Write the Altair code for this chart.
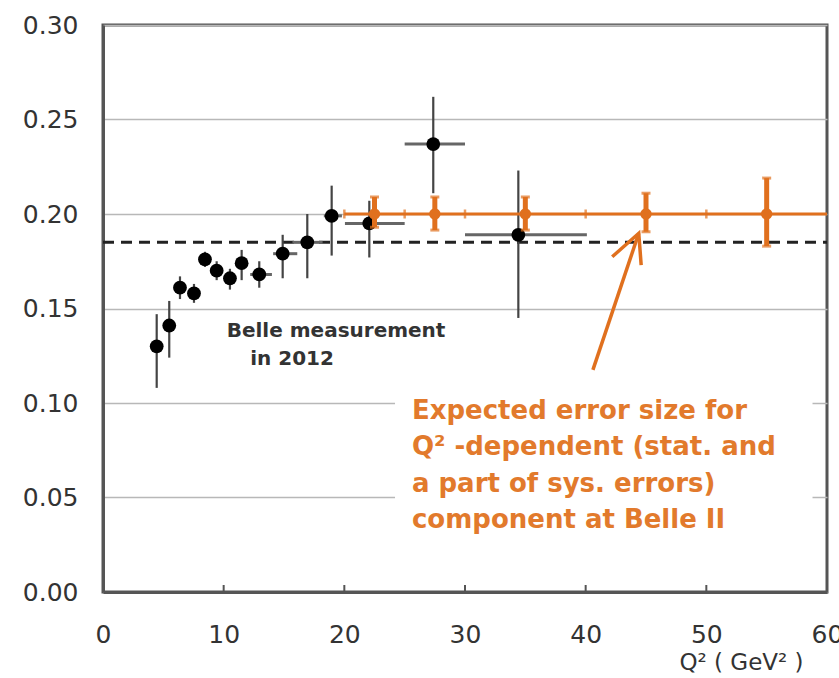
import altair as alt
import pandas as pd

# Belle 2012 measurement (Q^2 in GeV^2)
belle_q2 = [4.45, 5.49, 6.38, 7.54, 8.45, 9.42, 10.52, 11.49, 12.95, 14.89, 16.93, 18.95, 22.07, 27.37, 34.42]
belle_q2_lo = [3.95, 4.99, 5.88, 7.04, 7.95, 8.92, 10.02, 10.99, 12.2, 14.1, 15.7, 18.3, 20.05, 25.0, 30.0]
belle_q2_hi = [4.95, 5.99, 6.88, 8.04, 8.95, 9.92, 11.02, 11.99, 14.0, 16.1, 18.2, 19.8, 25.0, 30.0, 40.1]
belle_val = [0.130, 0.141, 0.161, 0.158, 0.176, 0.170, 0.166, 0.174, 0.168, 0.179, 0.185, 0.199, 0.195, 0.237, 0.189]
belle_lo = [0.108, 0.124, 0.155, 0.153, 0.172, 0.165, 0.160, 0.165, 0.161, 0.166, 0.166, 0.178, 0.177, 0.211, 0.145]
belle_hi = [0.147, 0.154, 0.167, 0.163, 0.180, 0.175, 0.171, 0.181, 0.175, 0.189, 0.200, 0.215, 0.207, 0.262, 0.223]

# Belle II expected errors
b2_q2 = [22.5, 27.5, 35.0, 45.0, 55.0]
b2_val = [0.200, 0.200, 0.200, 0.200, 0.200]
b2_lo = [0.193, 0.1915, 0.1915, 0.1906, 0.183]
b2_hi = [0.209, 0.209, 0.209, 0.211, 0.219]
b2_edges = [20, 25, 30, 40, 50]
b2_line_q2 = [20, 60]

# average line
avg_q2 = [0, 60]
avg_val = 0.185

x_ticks = [0, 10, 20, 30, 40, 50, 60]
inner_ticks = [10, 20, 30, 40, 50]
y_ticks = [0.0, 0.05, 0.10, 0.15, 0.20, 0.25, 0.30]

note_lines = ["Expected error size for", "Q² -dependent (stat. and",
              "a part of sys. errors)", "component at Belle II"]
note_y = [0.0959, 0.0769, 0.0571, 0.0381]
note_x = 25.6
note_box = {"x": 24.2, "x2": 58.8, "y": 0.022, "y2": 0.108}

belle_note = ["Belle  measurement", "in 2012"]
belle_note_x = [10.25, 12.2]
belle_note_y = [0.1383, 0.1233]

arrow_shaft = {"q": [40.6, 44.4], "v": [0.1175, 0.1898]}
arrow_head = {"q": [42.2, 44.4, 44.6], "v": [0.1774, 0.1898, 0.1730]}

ORANGE = "#E0701E"
TEXT_ORANGE = "#E27A2C"
DARK = "#555555"
FONT = "DejaVu Sans"

xscale = alt.Scale(domain=[0, 60], nice=False, zero=False)
yscale = alt.Scale(domain=[0, 0.30], nice=False, zero=False)
xaxis = alt.Axis(values=x_ticks, grid=False, ticks=False, labelPadding=30,
                 labelFontSize=25, labelFont=FONT, labelColor="#333333",
                 title="Q² ( GeV² )", titleFont=FONT, titleFontSize=23,
                 titleFontWeight="normal", titleColor="#333333",
                 titleX=638, titleY=70, titleAlign="center", titleBaseline="middle",
                 domainColor=DARK, domainWidth=3, labelFlush=False)
yaxis = alt.Axis(values=y_ticks, format=".2f", grid=True, gridColor="#b8b8b8",
                 gridWidth=1.5, ticks=False, labelPadding=25, labelFontSize=25,
                 labelFont=FONT, labelColor="#333333", title=None,
                 domainColor=DARK, domainWidth=3)


def X(field):
    return alt.X(f"{field}:Q", scale=xscale, axis=xaxis)


def Y(field):
    return alt.Y(f"{field}:Q", scale=yscale, axis=yaxis)


belle = pd.DataFrame({"q": belle_q2, "qlo": belle_q2_lo, "qhi": belle_q2_hi,
                      "v": belle_val, "lo": belle_lo, "hi": belle_hi})
b2 = pd.DataFrame({"q": b2_q2, "v": b2_val, "lo": b2_lo, "hi": b2_hi})

box = alt.Chart(pd.DataFrame([note_box])).mark_rect(color="white").encode(
    x=X("x"), x2="x2", y=Y("y"), y2="y2")

avg = alt.Chart(pd.DataFrame({"q": avg_q2, "v": [avg_val, avg_val]})).mark_line(
    color="#222222", strokeWidth=3, strokeDash=[11, 7]).encode(x=X("q"), y=Y("v"))

ticks_in = alt.Chart(pd.DataFrame({"q": inner_ticks})).mark_rule(
    color=DARK, strokeWidth=2).encode(x=X("q"), y=alt.value(567), y2=alt.value(560))

belle_yerr = alt.Chart(belle).mark_rule(color="#444444", strokeWidth=2.2).encode(
    x=X("q"), y=Y("lo"), y2="hi")
belle_xerr = alt.Chart(belle).mark_rule(color="#666666", strokeWidth=3).encode(
    y=Y("v"), x=X("qlo"), x2="qhi")
belle_pts = alt.Chart(belle).mark_point(filled=True, shape="circle", size=190,
                                         color="#000000", opacity=1).encode(
    x=X("q"), y=Y("v"))

b2_line = alt.Chart(pd.DataFrame({"q": b2_line_q2, "v": [0.2, 0.2]})).mark_line(
    color=ORANGE, strokeWidth=3).encode(x=X("q"), y=Y("v"))
b2_edge = alt.Chart(pd.DataFrame({"q": b2_edges, "v": [0.2] * len(b2_edges)})).mark_tick(
    color=ORANGE, orient="vertical", size=9, thickness=2.5).encode(x=X("q"), y=Y("v"))
b2_err = alt.Chart(b2).mark_rule(color=ORANGE, strokeWidth=5).encode(
    x=X("q"), y=Y("lo"), y2="hi")
b2_cap_lo = alt.Chart(b2).mark_tick(color=ORANGE, orient="horizontal", size=9,
                                    thickness=3).encode(x=X("q"), y=Y("lo"))
b2_cap_hi = alt.Chart(b2).mark_tick(color=ORANGE, orient="horizontal", size=9,
                                    thickness=3).encode(x=X("q"), y=Y("hi"))
b2_pts = alt.Chart(b2).mark_point(filled=True, shape="circle", size=130,
                                   color=ORANGE, opacity=1).encode(x=X("q"), y=Y("v"))

arrow1 = alt.Chart(pd.DataFrame(arrow_shaft)).mark_line(
    color=ORANGE, strokeWidth=3.5).encode(x=X("q"), y=Y("v"))
arrow2 = alt.Chart(pd.DataFrame(arrow_head)).mark_line(
    color=ORANGE, strokeWidth=3.5, strokeJoin="miter").encode(
    x=X("q"), y=Y("v"), order=alt.Order("idx:Q")).transform_window(
    idx="row_number()")

note = alt.Chart(pd.DataFrame({"t": note_lines, "q": [note_x] * 4, "v": note_y})).mark_text(
    align="left", baseline="middle", font=FONT, fontSize=26, fontWeight="bold",
    color=TEXT_ORANGE).encode(x=X("q"), y=Y("v"), text="t:N")

bnote = alt.Chart(pd.DataFrame({"t": belle_note, "q": belle_note_x, "v": belle_note_y})).mark_text(
    align="left", baseline="middle", font=FONT, fontSize=20, fontWeight="bold",
    color="#333333").encode(x=X("q"), y=Y("v"), text="t:N")

chart = alt.layer(
    box, avg, ticks_in, belle_yerr, belle_xerr, belle_pts,
    b2_line, b2_edge, b2_err, b2_cap_lo, b2_cap_hi, b2_pts,
    arrow1, arrow2, note, bnote
).properties(
    width=724, height=567,
    autosize=alt.AutoSizeParams(type="none"),
    padding={"left": 103, "top": 25, "right": 12, "bottom": 86},
    background="white"
).configure_view(stroke=DARK, strokeWidth=3)

chart.save("out.html", embed_options={"renderer": "svg", "actions": False})
